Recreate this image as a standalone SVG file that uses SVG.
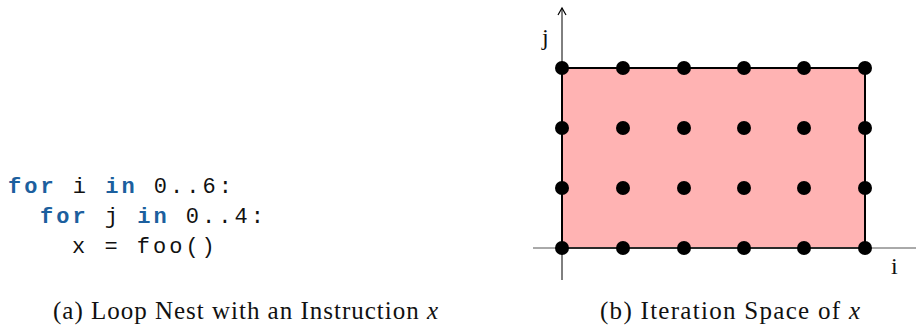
<svg xmlns="http://www.w3.org/2000/svg" width="916" height="325" viewBox="0 0 916 325">
<style>
.code{font-family:"Liberation Mono","DejaVu Sans Mono",monospace;font-size:22px;letter-spacing:3px;fill:#111}
.kw{font-weight:bold;fill:#1c5f9e}
.cap{font-family:"Liberation Serif","DejaVu Serif",serif;font-size:25px;fill:#111}
.lbl{font-family:"Liberation Serif","DejaVu Serif",serif;font-size:24px;fill:#111}
.dot{fill:#000}
</style>
<defs>
<marker id="arr" viewBox="0 0 10 10" refX="8" refY="5" markerWidth="10" markerHeight="10" markerUnits="userSpaceOnUse" orient="auto">
<path d="M1,1 L8,5 L1,9" fill="none" stroke="#000" stroke-width="1.2"/>
</marker>
</defs>
<g id="code">
<text class="code" x="8" y="193"><tspan class="kw">for</tspan> i <tspan class="kw">in</tspan> 0..6:</text>
<text class="code" x="40" y="223"><tspan class="kw">for</tspan> j <tspan class="kw">in</tspan> 0..4:</text>
<text class="code" x="72" y="253">x = foo()</text>
</g>
<g id="region">
<rect x="562" y="68" width="303" height="180" fill="#ffb3b3" stroke="#000" stroke-width="2"/>
</g>
<g id="connectors">
<line x1="562" y1="280" x2="562" y2="8" stroke="#000" stroke-width="1" marker-end="url(#arr)"/>
<line x1="533" y1="248" x2="916" y2="248" stroke="#555" stroke-width="1"/>
</g>
<g id="labels">
<text class="lbl" x="542" y="45">j</text>
<text class="lbl" x="891" y="274">i</text>
</g>
<g id="points">
<circle class="dot" cx="562" cy="68" r="7"/><circle class="dot" cx="623" cy="68" r="7"/><circle class="dot" cx="684" cy="68" r="7"/><circle class="dot" cx="744" cy="68" r="7"/><circle class="dot" cx="804" cy="68" r="7"/><circle class="dot" cx="865" cy="68" r="7"/>
<circle class="dot" cx="562" cy="128" r="7"/><circle class="dot" cx="623" cy="128" r="7"/><circle class="dot" cx="684" cy="128" r="7"/><circle class="dot" cx="744" cy="128" r="7"/><circle class="dot" cx="804" cy="128" r="7"/><circle class="dot" cx="865" cy="128" r="7"/>
<circle class="dot" cx="562" cy="188" r="7"/><circle class="dot" cx="623" cy="188" r="7"/><circle class="dot" cx="684" cy="188" r="7"/><circle class="dot" cx="744" cy="188" r="7"/><circle class="dot" cx="804" cy="188" r="7"/><circle class="dot" cx="865" cy="188" r="7"/>
<circle class="dot" cx="562" cy="248" r="7"/><circle class="dot" cx="623" cy="248" r="7"/><circle class="dot" cx="684" cy="248" r="7"/><circle class="dot" cx="744" cy="248" r="7"/><circle class="dot" cx="804" cy="248" r="7"/><circle class="dot" cx="865" cy="248" r="7"/>
</g>
<g id="captions">
<text class="cap" x="53" y="319" textLength="385" lengthAdjust="spacing">(a) Loop Nest with an Instruction <tspan font-style="italic">x</tspan></text>
<text class="cap" x="600" y="319" textLength="260" lengthAdjust="spacing">(b) Iteration Space of <tspan font-style="italic">x</tspan></text>
</g>
</svg>
